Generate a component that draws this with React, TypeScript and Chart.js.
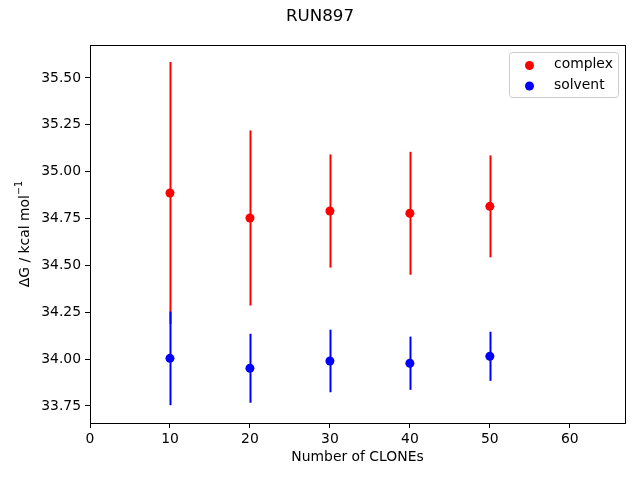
import React, { useEffect, useRef } from "react";
import { Chart, registerables } from "chart.js";

Chart.register(...registerables);

const clones = [10, 20, 30, 40, 50];
const complexMean = [34.886, 34.753, 34.79, 34.778, 34.815];
const complexErr = [0.699, 0.467, 0.302, 0.328, 0.272];
const solventMean = [34.004, 33.951, 33.99, 33.978, 34.015];
const solventErr = [0.25, 0.184, 0.167, 0.142, 0.131];
const xTicks = [0, 10, 20, 30, 40, 50, 60];
const yTicks = [33.75, 34.0, 34.25, 34.5, 34.75, 35.0, 35.25, 35.5];

const FONT = "'DejaVu Sans', sans-serif";

const customPlugin = {
  id: "custom",
  beforeDatasetsDraw(chart: any) {
    const ctx = chart.ctx;
    const xs = chart.scales.x;
    const ys = chart.scales.y;
    const series = [
      { m: complexMean, e: complexErr, c: "#ff0000" },
      { m: solventMean, e: solventErr, c: "#0000ff" },
    ];
    ctx.save();
    ctx.lineWidth = 2;
    series.forEach((s) => {
      ctx.strokeStyle = s.c;
      clones.forEach((c, i) => {
        const px = Math.round(xs.getPixelForValue(c)) + 0.5;
        ctx.beginPath();
        ctx.moveTo(px, ys.getPixelForValue(s.m[i] + s.e[i]));
        ctx.lineTo(px, ys.getPixelForValue(s.m[i] - s.e[i]));
        ctx.stroke();
      });
    });
    ctx.restore();
  },
  afterDraw(chart: any) {
    const ctx = chart.ctx;
    const a = chart.chartArea;
    ctx.save();
    // frame
    ctx.strokeStyle = "#000";
    ctx.lineWidth = 1;
    ctx.strokeRect(Math.round(a.left) + 0.5, Math.round(a.top) + 0.5, Math.round(a.right - a.left), Math.round(a.bottom - a.top));
    // title
    ctx.fillStyle = "#000";
    ctx.font = `16.7px ${FONT}`;
    ctx.textAlign = "center";
    ctx.textBaseline = "middle";
    ctx.fillText("RUN897", 320, 17);
    // x label
    ctx.font = `13.9px ${FONT}`;
    ctx.fillText("Number of CLONEs", (a.left + a.right) / 2, 457);
    // y label
    ctx.save();
    ctx.translate(25, (a.top + a.bottom) / 2);
    ctx.rotate(-Math.PI / 2);
    const main = "ΔG / kcal mol";
    ctx.font = `13.9px ${FONT}`;
    const w1 = ctx.measureText(main).width;
    ctx.font = `9.7px ${FONT}`;
    const w2 = ctx.measureText("−1").width;
    const total = w1 + w2;
    ctx.textAlign = "left";
    ctx.font = `13.9px ${FONT}`;
    ctx.fillText(main, -total / 2, 0);
    ctx.font = `9.7px ${FONT}`;
    ctx.fillText("−1", -total / 2 + w1, -6);
    ctx.restore();
    // legend
    const lx = 509.5, ly = 52.5, lw = 109, lh = 45;
    ctx.fillStyle = "rgba(255,255,255,0.8)";
    ctx.strokeStyle = "#cccccc";
    ctx.lineWidth = 1;
    ctx.beginPath();
    (ctx as any).roundRect ? (ctx as any).roundRect(lx, ly, lw, lh, 3) : ctx.rect(lx, ly, lw, lh);
    ctx.fill();
    ctx.stroke();
    const items = [
      { t: "complex", c: "#ff0000", y: 64.5 },
      { t: "solvent", c: "#0000ff", y: 85 },
    ];
    items.forEach((it) => {
      ctx.fillStyle = it.c;
      ctx.beginPath();
      ctx.arc(529.5, it.y + 1, 4.5, 0, Math.PI * 2);
      ctx.fill();
      ctx.fillStyle = "#000";
      ctx.font = `13.9px ${FONT}`;
      ctx.textAlign = "left";
      ctx.textBaseline = "middle";
      ctx.fillText(it.t, 554, it.y);
    });
    ctx.restore();
  },
};

export default function App() {
  const ref = useRef<HTMLCanvasElement>(null);
  useEffect(() => {
    if (!ref.current) return;
    const chart = new Chart(ref.current, {
      type: "scatter",
      data: {
        datasets: [
          {
            label: "complex",
            data: clones.map((c, i) => ({ x: c, y: complexMean[i] })),
            backgroundColor: "#ff0000",
            borderWidth: 0,
            pointRadius: 4.5,
          },
          {
            label: "solvent",
            data: clones.map((c, i) => ({ x: c, y: solventMean[i] })),
            backgroundColor: "#0000ff",
            borderWidth: 0,
            pointRadius: 4.5,
          },
        ],
      },
      options: {
        animation: false,
        responsive: false,
        maintainAspectRatio: false,
        layout: { padding: { top: 45, right: 15, left: 0, bottom: 0 } },
        plugins: {
          legend: { display: false },
          title: { display: false },
          tooltip: { enabled: false },
        },
        scales: {
          x: {
            type: "linear",
            min: 0,
            max: 66.9,
            afterBuildTicks: (s: any) => {
              s.ticks = xTicks.map((v) => ({ value: v }));
            },
            afterFit: (s: any) => {
              s.height = 57;
            },
            grid: { drawOnChartArea: false, tickLength: 5, color: "#000", tickColor: "#000" },
            border: { display: false },
            ticks: { color: "#000", font: { family: FONT, size: 13.9 }, padding: 3, maxRotation: 0 },
          },
          y: {
            type: "linear",
            min: 33.659,
            max: 35.676,
            afterBuildTicks: (s: any) => {
              s.ticks = yTicks.map((v) => ({ value: v }));
            },
            afterFit: (s: any) => {
              s.width = 90;
            },
            grid: { drawOnChartArea: false, tickLength: 5, color: "#000", tickColor: "#000" },
            border: { display: false },
            ticks: {
              color: "#000",
              font: { family: FONT, size: 13.9 },
              padding: 4,
              callback: (v: any) => Number(v).toFixed(2),
            },
          },
        },
      },
      plugins: [customPlugin],
    });
    return () => chart.destroy();
  }, []);
  return (
    <div style={{ position: "fixed", left: 0, top: 0, width: 640, height: 480, background: "#fff" }}>
      <canvas ref={ref} width={640} height={480} style={{ width: 640, height: 480 }} />
    </div>
  );
}
